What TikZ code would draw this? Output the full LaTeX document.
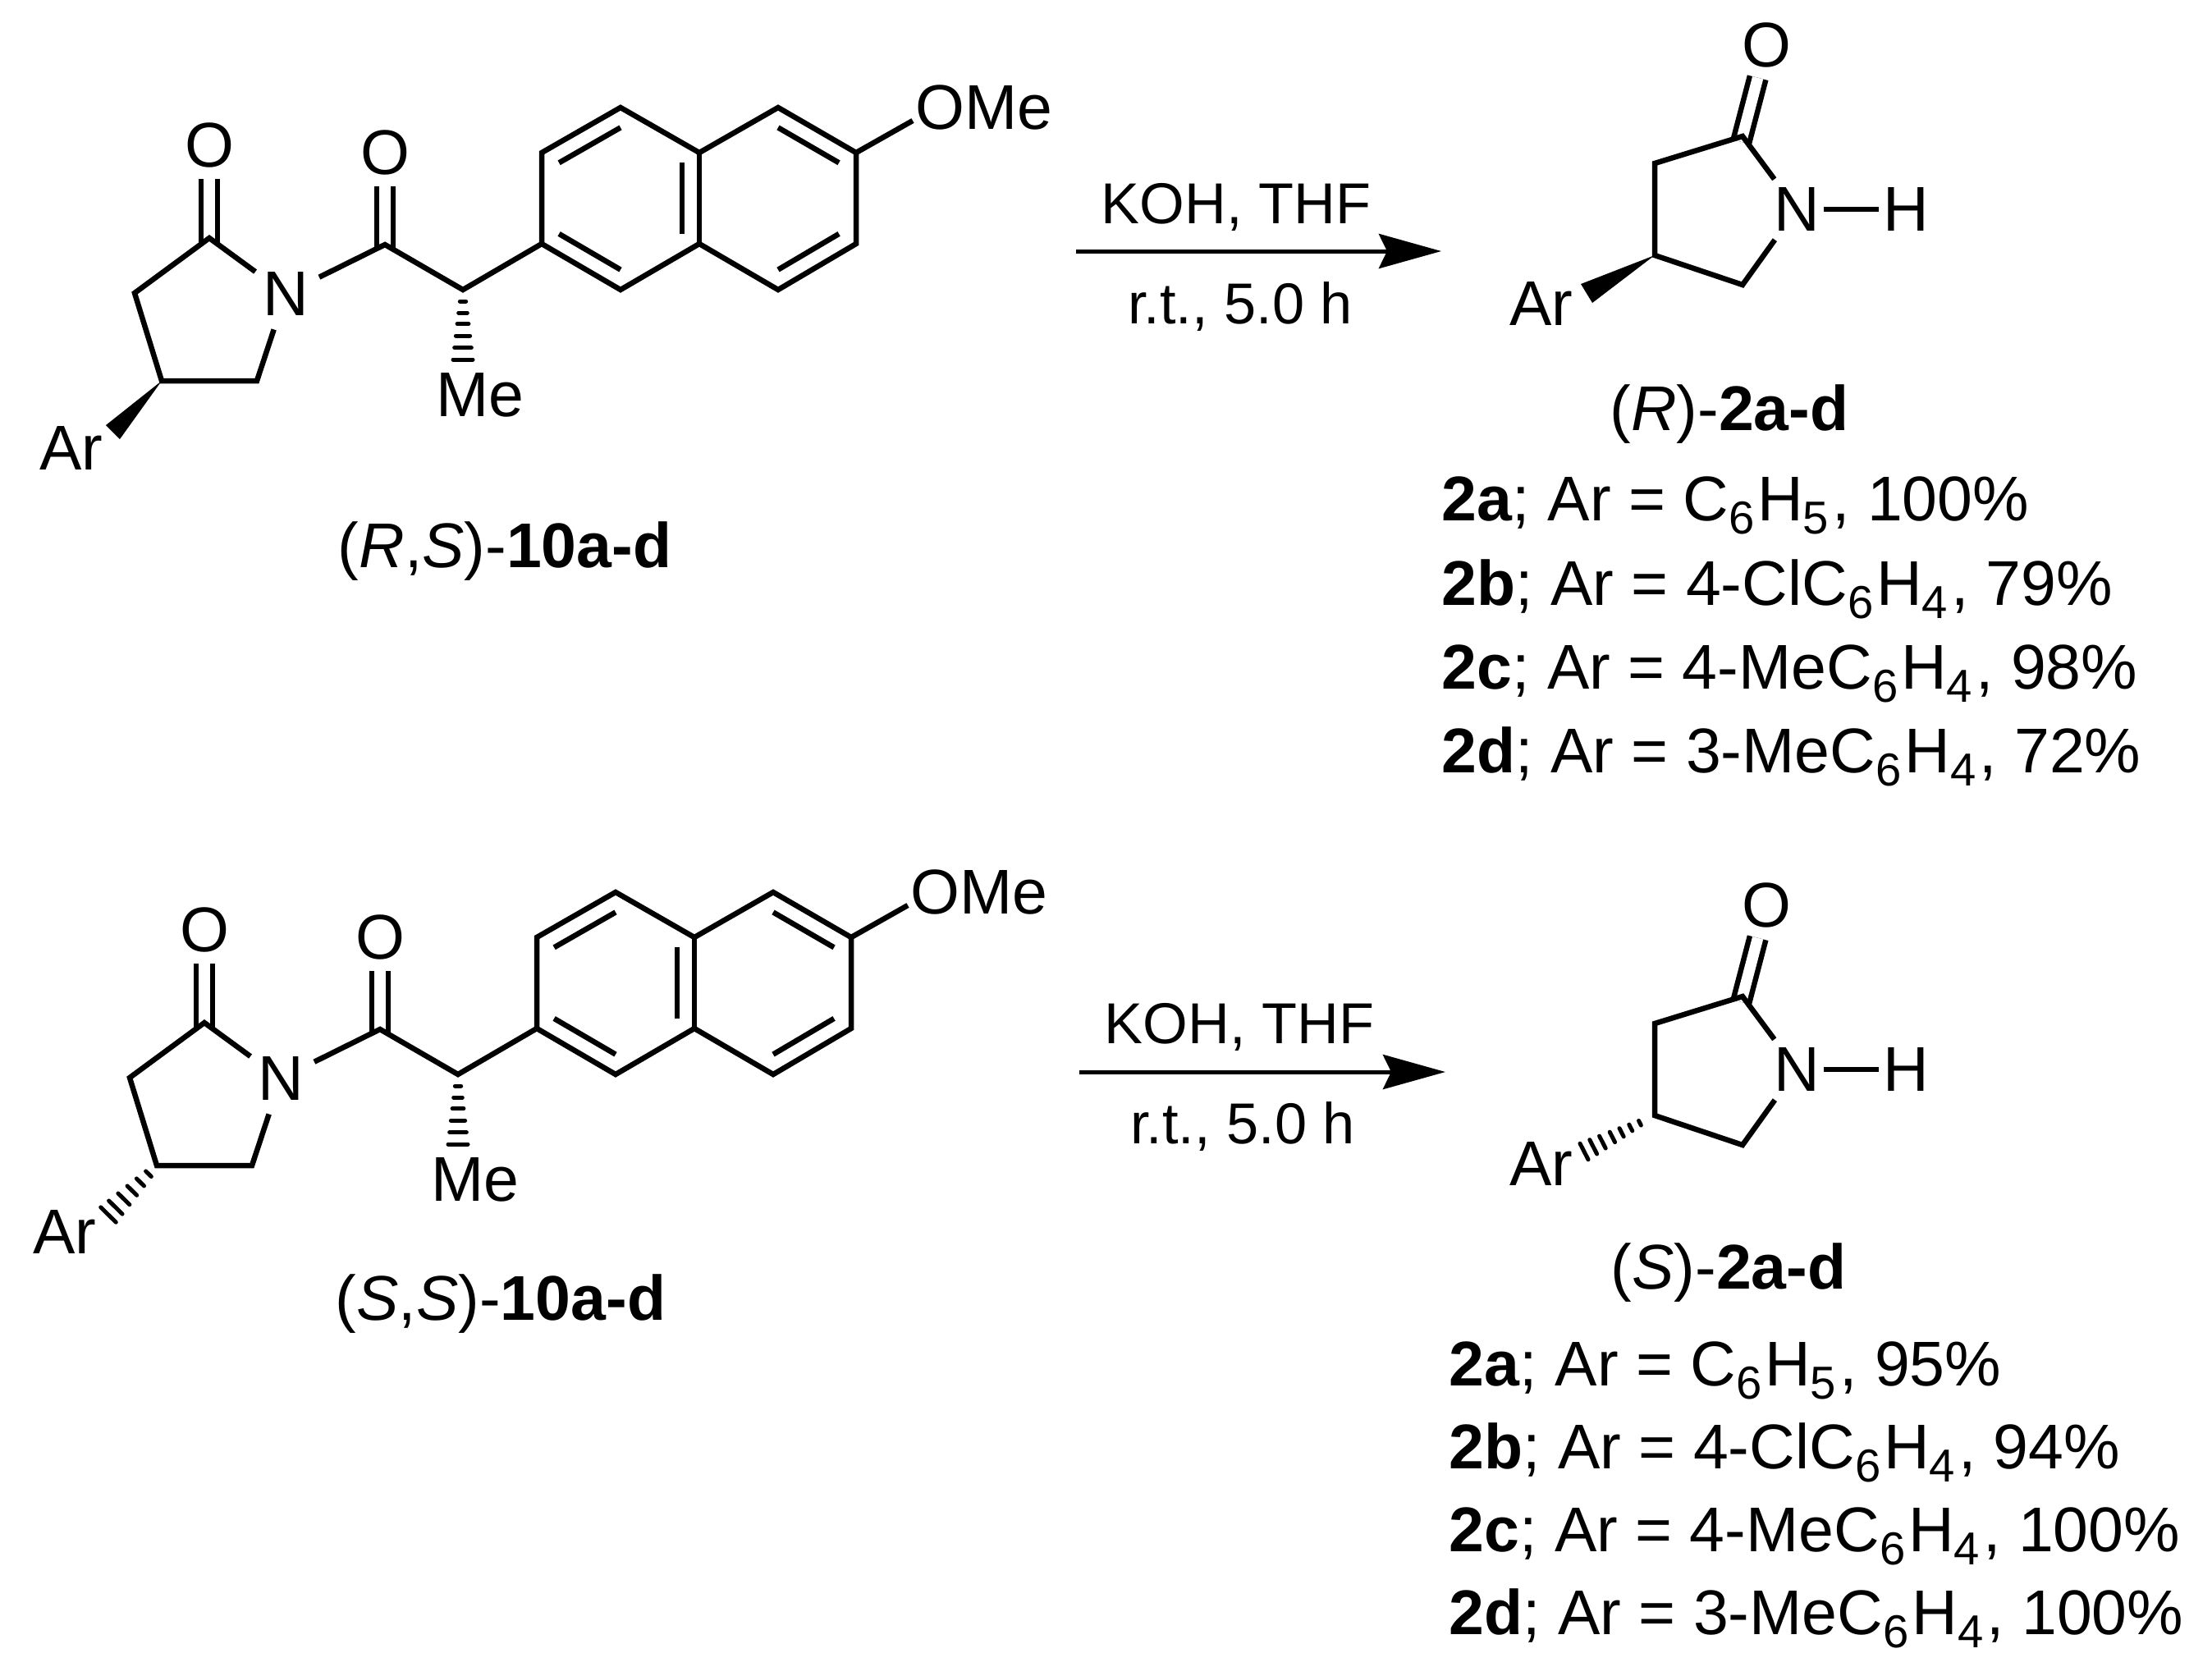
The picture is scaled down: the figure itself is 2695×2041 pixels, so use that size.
\documentclass[tikz,border=0pt]{standalone}
\usepackage{fontspec}
\setmainfont{Liberation Sans}
\usetikzlibrary{calc,arrows.meta}
\newcommand{\sbs}[1]{\raisebox{-.22em}{\fontsize{16}{18}\selectfont #1}\kern.04cm}
\tikzset{
  bond/.style={line width=.065cm},
  dbl/.style={bond,double,double distance=.135cm,shorten <=-.07cm},
  hash/.style={line width=.05cm,line cap=round},
  atom/.style={circle,inner sep=0pt,minimum size=.9cm},
  oxy/.style={atom,minimum size=.8cm},
  base/.style={anchor=base,inner sep=0pt},
  lbl/.style={anchor=base west,inner sep=0pt},
  rxn/.style={base,font=\fontsize{20}{24}\selectfont},
  rxnarrow/.style={line width=.05cm,-{Stealth[length=.76cm,width=.42cm,inset=.1cm]}}
}
\begin{document}
\begin{tikzpicture}[x=.01cm,y=-.01cm,font=\fontsize{21.9}{26}\selectfont]
  \useasboundingbox (0,0) rectangle (2695,2041);
  % acyl lactams
  \foreach \mol/\dx/\dy in {t/0/0,b/-6/956}{
    \begin{scope}[shift={(\dx,\dy)},name prefix=\mol-]
      \foreach \n/\x/\y in {a1/660/186,a2/756/131,a3/852/186,a4/948/131,a5/1043/186,
          a6/1043/297,a7/948/353,a8/852/297,a9/756/353,a10/660/297,ringl/756/242,ringr/948/242,
          cm/564/353,cc/469/298,lc/255/290,ca/164/357,cb/197/464,cd/313/464,
          hm/564/438,oend/1112/147}
        \coordinate (\n) at (\x,\y);
      \node[atom] (n) at (348,358) {N};
      \node[oxy] (o1) at (255,177) {O};
      \node[oxy] (o2) at (469,186) {O};
      \node[lbl] (ome) at (1115,157) {OMe};
      \node[base] (me) at (585,507) {Me};
      \draw[dbl] (lc) -- (o1);
      \draw[dbl] (cc) -- (o2);
      \draw[bond] (n) -- (lc) -- (ca) -- (cb) -- (cd) -- (n);
      \draw[bond] (n) -- (cc) -- (cm) -- (a10);
      \draw[bond] (a1) -- (a2) -- (a3) -- (a4) -- (a5) -- (a6) -- (a7) -- (a8) -- (a9) -- (a10) -- cycle;
      \draw[bond] (a3) -- (a8);
      \draw[bond] (a5) -- (oend);
      \foreach \r/\p/\q in {ringl/a1/a2,ringl/a10/a9,ringl/a3/a8,ringr/a4/a5,ringr/a6/a7}
        \draw[bond] ($(\r)!.78!(\p)$) -- ($(\r)!.78!(\q)$);
    \end{scope}
  }
  % lactams
  \foreach \mol/\dy in {p/0,q/1048}{
    \begin{scope}[shift={(0,\dy)},name prefix=\mol-]
      \foreach \n/\x/\y in {lc/2123/166,ca/2016/199,cb/2016/311,cd/2123/347}
        \coordinate (\n) at (\x,\y);
      \node[atom] (n) at (2189,255) {N};
      \node[atom] (h) at (2322,255) {H};
      \node[oxy] (o) at (2152,55) {O};
      \draw[dbl] (lc) -- (o);
      \draw[bond] (n) -- (lc) -- (ca) -- (cb) -- (cd) -- (n);
      \draw[bond,shorten <=.33cm,shorten >=.33cm] (n.center) -- (h.center);
    \end{scope}
  }
  % aryl groups
  \node (tar) at (87,546) {Ar};
  \node (bar) at (79,1501) {Ar};
  \node (par) at (1878,370) {Ar};
  \node (qar) at (1878,1418) {Ar};
  \coordinate (tw1) at (129,518);
  \coordinate (tw2) at (146,535);
  \coordinate (pw1) at (1926,346);
  \coordinate (pw2) at (1940,369);
  \coordinate (bh) at (132,1480);
  \coordinate (qh) at (1930,1403);
  \fill (t-cb) -- (tw1) -- (tw2) -- cycle;
  \fill (p-cb) -- (pw1) -- (pw2) -- cycle;
  \foreach \s/\e in {t-cm/t-hm,b-cm/b-hm}
    \foreach \pos in {.165,.33,.49,.66,.83,1}
      \draw[hash] ($(\s)!\pos!(\e)!.02cm+\pos*.1cm!90:(\s)$) -- ($(\s)!\pos!(\e)!.02cm+\pos*.1cm!-90:(\s)$);
  \foreach \pos in {.17,.34,.51,.68,.85,1}
    \draw[hash] ($(b-cb)!\pos!(bh)!.03cm+\pos*.1cm!90:(b-cb)$) -- ($(b-cb)!\pos!(bh)!.03cm+\pos*.1cm!-90:(b-cb)$);
  \foreach \pos in {.21,.34,.47,.6,.74,.87,1}
    \draw[hash] ($(q-cb)!\pos!(qh)!.01cm+\pos*.1cm!90:(q-cb)$) -- ($(q-cb)!\pos!(qh)!.01cm+\pos*.1cm!-90:(q-cb)$);
  % arrows
  \coordinate (ar1) at (1311,306);
  \coordinate (ar2) at (1756,306);
  \coordinate (ar3) at (1315,1306);
  \coordinate (ar4) at (1761,1306);
  \draw[rxnarrow] (ar1) -- (ar2);
  \draw[rxnarrow] (ar3) -- (ar4);
  \node[rxn] (koh1) at (1506,272) {KOH, THF};
  \node[rxn] (rt1) at (1511,394) {r.t., 5.0 h};
  \node[rxn] (koh2) at (1510,1271) {KOH, THF};
  \node[rxn] (rt2) at (1514,1393) {r.t., 5.0 h};
  % labels
  \node[base] (lrs) at (615,691) {(\textit{R},\textit{S})-\textbf{10a-d}};
  \node[base] (lss) at (610,1608) {(\textit{S},\textit{S})-\textbf{10a-d}};
  \node[base] (lr) at (2107,524) {(\textit{R})-\textbf{2a-d}};
  \node[base] (ls) at (2106,1570) {(\textit{S})-\textbf{2a-d}};
  \node[lbl] (r2a) at (1756,634) {\textbf{2a}; Ar = C\sbs{6}H\sbs{5}, 100\%};
  \node[lbl] (r2b) at (1756,737) {\textbf{2b}; Ar = 4-ClC\sbs{6}H\sbs{4}, 79\%};
  \node[lbl] (r2c) at (1756,839) {\textbf{2c}; Ar = 4-MeC\sbs{6}H\sbs{4}, 98\%};
  \node[lbl] (r2d) at (1756,941) {\textbf{2d}; Ar = 3-MeC\sbs{6}H\sbs{4}, 72\%};
  \node[lbl] (s2a) at (1765,1688) {\textbf{2a}; Ar = C\sbs{6}H\sbs{5}, 95\%};
  \node[lbl] (s2b) at (1765,1789) {\textbf{2b}; Ar = 4-ClC\sbs{6}H\sbs{4}, 94\%};
  \node[lbl] (s2c) at (1765,1890) {\textbf{2c}; Ar = 4-MeC\sbs{6}H\sbs{4}, 100\%};
  \node[lbl] (s2d) at (1765,1991) {\textbf{2d}; Ar = 3-MeC\sbs{6}H\sbs{4}, 100\%};
\end{tikzpicture}
\end{document}
